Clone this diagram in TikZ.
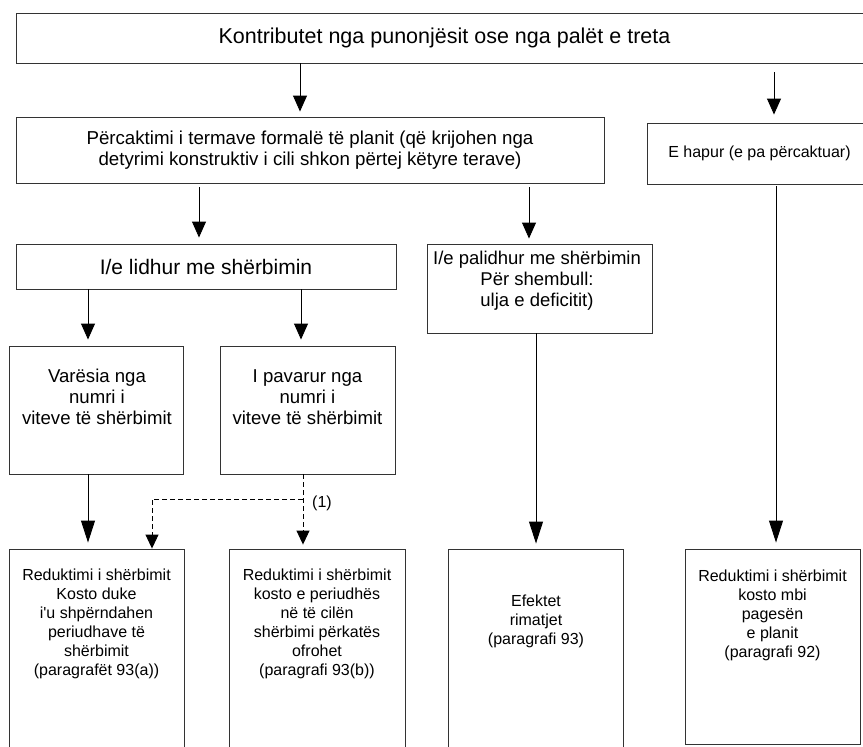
\documentclass[tikz,border=0pt]{standalone}
\usepackage{fontspec}
\setmainfont{Liberation Sans}
\newfontfamily\nomapfont{Liberation Sans}
\usetikzlibrary{arrows.meta}
\begin{document}
\begin{tikzpicture}[x=1pt,y=-1pt,
  box/.style={draw=black!80, line width=0.9pt, rectangle, inner sep=0pt, align=center},
  txt/.style={align=center, inner sep=0pt, font=\fontsize{16}{19}\selectfont},
  arr/.style={-{Triangle[length=16pt,width=14pt]}, line width=0.9pt, black},
  arrl/.style={-{Triangle[length=22pt,width=14pt]}, line width=0.9pt, black},
  darr/.style={-{Triangle[length=14pt,width=13pt]}, line width=0.9pt, black, dash pattern=on 5pt off 3pt}]
\useasboundingbox (0,0) rectangle (863,747);
\clip (0,0) rectangle (863,747);
% boxes
\node[box, minimum width=857pt, minimum height=50pt, font=\fontsize{21.5}{26}\selectfont] (top) at (444.5,38) {Kontributet nga punonjësit ose nga palët e treta};
\node[box, minimum width=588pt, minimum height=66pt, font=\fontsize{18.7}{21.5}\selectfont] (plan) at (310,150) {Përcaktimi i termave formalë të planit (që krijohen nga\\detyrimi konstruktiv i cili shkon përtej këtyre terave)};
\node[box, minimum width=225pt, minimum height=61pt, font=\fontsize{16}{19}\selectfont] (open) at (759.5,153.5) {E hapur (e pa përcaktuar)};
\node[box, minimum width=380pt, minimum height=45pt, font=\fontsize{21}{25}\selectfont] (rel) at (206,266.5) {I/e lidhur me shërbimin};
\node[box, minimum width=225pt, minimum height=89pt] (unrel) at (539.5,288.5) {};
\node[txt, font=\fontsize{18.5}{21}\selectfont] (unrelT) at (537,281) {I/e palidhur me shërbimin\\Për shembull:\\ulja e deficitit)};
\node[box, minimum width=174pt, minimum height=128pt] (dep) at (96,410) {};
\node[txt, font=\fontsize{18.6}{21}\selectfont] (depT) at (97,397) {Varësia nga\\numri i\\viteve të shërbimit};
\node[box, minimum width=175pt, minimum height=128pt] (ind) at (307.5,410) {};
\node[txt, font=\fontsize{18.6}{21}\selectfont] (indT) at (307.5,397) {I pavarur nga\\numri i\\viteve të shërbimit};
\node[box, minimum width=175pt, minimum height=212pt] (ra) at (96.5,655) {};
\node[txt] (raT) at (96.5,624) {Reduktimi i shërbimit\\Kosto duke\\i{\nomapfont'}u shpërndahen\\periudhave të\\shërbimit\\(paragrafët 93(a))};
\node[box, minimum width=176pt, minimum height=212pt] (rb) at (317,655) {};
\node[txt] (rbT) at (317,624) {Reduktimi i shërbimit\\kosto e periudhës\\në të cilën\\shërbimi përkatës\\ofrohet\\(paragrafi 93(b))};
\node[box, minimum width=175pt, minimum height=212pt] (rc) at (535.5,655) {};
\node[txt] (rcT) at (536,621) {Efektet\\rimatjet\\(paragrafi 93)};
\node[box, minimum width=175pt, minimum height=195pt] (rd) at (772.5,646.5) {};
\node[txt] (rdT) at (772.5,615) {Reduktimi i shërbimit\\kosto mbi\\pagesën\\e planit\\(paragrafi 92)};
\node[txt] (one) at (322,503) {(1)};
% x positions
\coordinate (x300) at (300,0);
\coordinate (x774) at (774,0);
\coordinate (x199) at (199,0);
\coordinate (x529) at (529,0);
\coordinate (x88) at (88,0);
\coordinate (x301) at (301,0);
\coordinate (x303) at (303,0);
\coordinate (x536) at (536,0);
\coordinate (x776) at (776,0);
\coordinate (dj) at (303,499);
\coordinate (dk) at (152,499);
% connectors
\draw[arr, shorten >=5pt] (top.south -| x300) -- (plan.north -| x300);
\draw[arr, shorten <=9pt, shorten >=8pt] (top.south -| x774) -- (open.north -| x774);
\draw[arr, shorten <=4pt, shorten >=6pt] (plan.south -| x199) -- (rel.north -| x199);
\draw[arr, shorten <=4pt, shorten >=5pt] (plan.south -| x529) -- (unrel.north -| x529);
\draw[arr, shorten >=6pt] (rel.south -| x88) -- (dep.north -| x88);
\draw[arr, shorten >=6pt] (rel.south -| x301) -- (ind.north -| x301);
\draw[arrl, shorten >=6pt] (dep.south -| x88) -- (ra.north -| x88);
\draw[darr, shorten >=4pt] (ind.south -| x303) -- (rb.north -| x303);
\draw[darr] (dj) -- (dk) -- (ra.north -| dk);
\draw[arrl, shorten >=5pt] (unrel.south -| x536) -- (rc.north -| x536);
\draw[arrl, shorten <=2pt, shorten >=6pt] (open.south -| x776) -- (rd.north -| x776);
\end{tikzpicture}
\end{document}
